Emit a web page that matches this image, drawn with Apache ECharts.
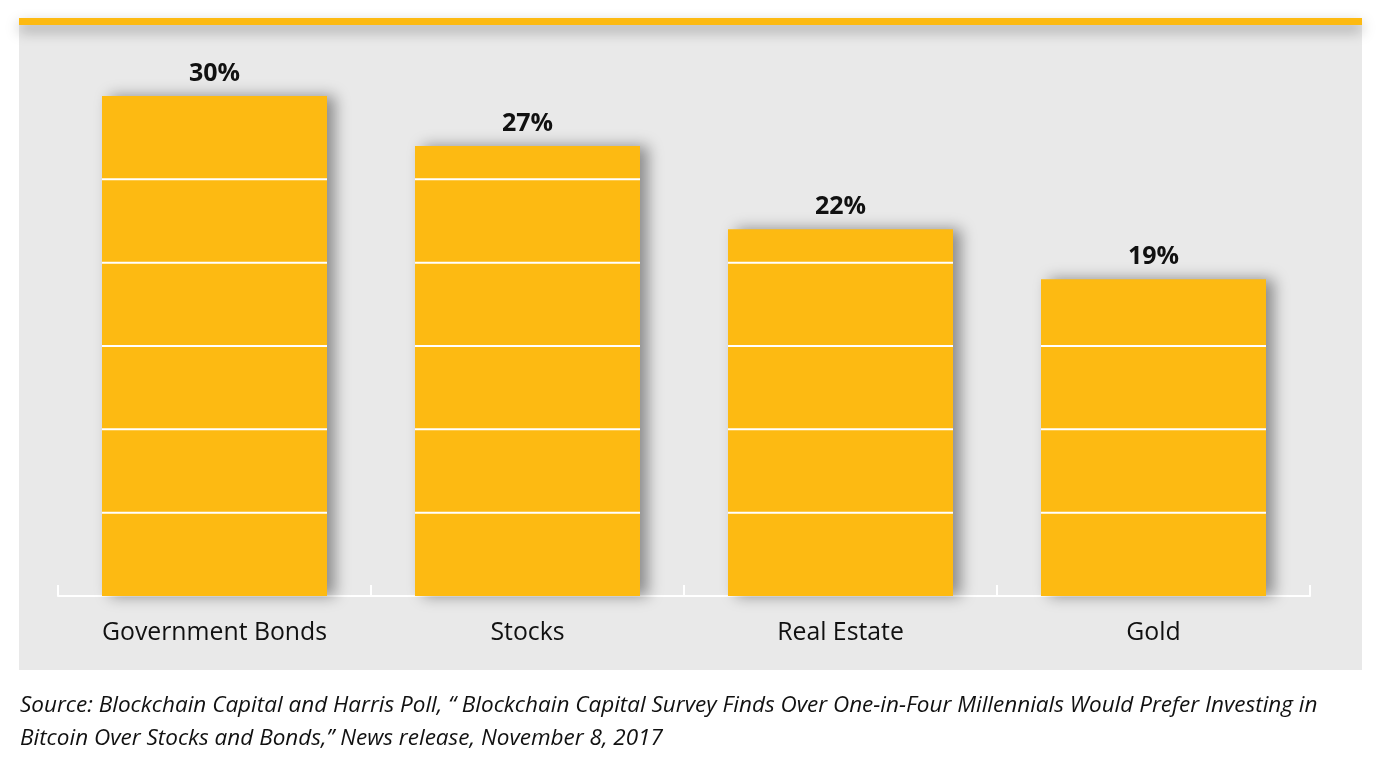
<!DOCTYPE html>
<html><head><meta charset="utf-8">
<script src="https://cdn.jsdelivr.net/npm/echarts@6/dist/echarts.min.js"></script>
<style>html,body{margin:0;padding:0;background:#fff;}#c{width:1378px;height:764px;}</style>
</head><body><div id="c"></div>
<script>
const categories = ['Government Bonds', 'Stocks', 'Real Estate', 'Gold'];
const values = [30, 27, 22, 19];
const gridValues = [5, 10, 15, 20, 25];
const sourceLines = [
  'Source: Blockchain Capital and Harris Poll, \u201c Blockchain Capital Survey Finds Over One-in-Four Millennials Would Prefer Investing in',
  'Bitcoin Over Stocks and Bonds,\u201d News release, November 8, 2017'
];

const chart = echarts.init(document.getElementById('c'));
const FONT = '"Open Sans", Lato, sans-serif';
const BAR = '#FDBA12';

chart.setOption({
  animation: false,
  graphic: [
    { type: 'rect', z: -10, shape: { x: 19, y: 18, width: 1343, height: 652 }, style: { fill: '#E9E9E9' } },
    { type: 'rect', z: -9, shape: { x: 19, y: 18, width: 1343, height: 7 },
      style: { fill: BAR, shadowColor: 'rgba(0,0,0,0.35)', shadowBlur: 14, shadowOffsetY: 6 } },
    { type: 'text', left: 20, top: 689,
      style: { text: sourceLines.join('\n'), font: 'italic 22.5px ' + FONT, fill: '#111111', lineHeight: 33 } }
  ],
  grid: { left: 58, right: 68, top: 96, bottom: 168 },
  xAxis: {
    type: 'category', data: categories,
    axisLine: { show: true, lineStyle: { color: '#ffffff', width: 2 } },
    axisTick: { show: true, inside: true, length: 11, lineStyle: { color: '#ffffff', width: 2 } },
    axisLabel: { fontFamily: FONT, fontSize: 24.8, color: '#111111', margin: 24 }
  },
  yAxis: { type: 'value', min: 0, max: 30, show: false, splitLine: { show: false } },
  series: [
    {
      type: 'bar', data: values, barWidth: 225, z: 2,
      itemStyle: { color: BAR, shadowColor: 'rgba(0,0,0,0.4)', shadowBlur: 14, shadowOffsetX: 8 },
      label: { show: true, position: 'top', distance: 10, formatter: '{c}%',
        fontFamily: FONT, fontWeight: 'bold', fontSize: 25, color: '#111111' }
    },
    {
      type: 'custom', z: 5, silent: true,
      data: values.map((v, i) => [i, v]),
      renderItem: function (params, api) {
        const idx = api.value(0), v = api.value(1);
        const children = [];
        gridValues.forEach(g => {
          if (g < v) {
            const p = api.coord([idx, g]);
            children.push({ type: 'line', shape: { x1: p[0] - 112.5, y1: p[1], x2: p[0] + 112.5, y2: p[1] },
              style: { stroke: '#ffffff', lineWidth: 2 } });
          }
        });
        return { type: 'group', children: children };
      }
    }
  ]
});
</script></body></html>
